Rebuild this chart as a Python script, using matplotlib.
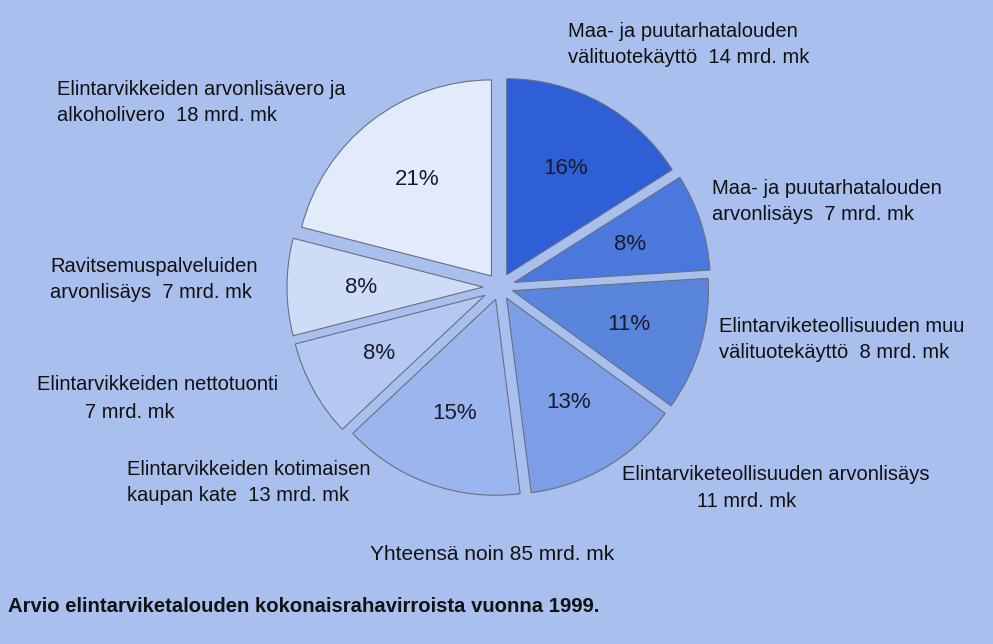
import matplotlib
matplotlib.use("Agg")
import matplotlib.pyplot as plt
from matplotlib import font_manager

# data (percent shares, clockwise from 12 o'clock)
osuudet = [16, 8, 11, 13, 15, 8, 8, 21]
varit = ['#2f5fd6', '#4a78dc', '#5a85dd', '#7b9ee6',
         '#9bb5ee', '#b4c8f2', '#cfdcf8', '#e2ebfb']
selitteet = [
    "Maa- ja puutarhatalouden\nvälituotekäyttö  14 mrd. mk",
    "Maa- ja puutarhatalouden\narvonlisäys  7 mrd. mk",
    "Elintarviketeollisuuden muu\nvälituotekäyttö  8 mrd. mk",
    "Elintarviketeollisuuden arvonlisäys",
    "Elintarvikkeiden kotimaisen\nkaupan kate  13 mrd. mk",
    "Elintarvikkeiden nettotuonti",
    "Ravitsemuspalveluiden\narvonlisäys  7 mrd. mk",
    "Elintarvikkeiden arvonlisävero ja\nalkoholivero  18 mrd. mk",
]
# label anchor (left x, top y) in image pixels
selite_xy = [(568, 22), (712, 179), (719, 317), (622, 465),
             (127, 460), (37, 375), (50, 257), (57, 80)]
yhteensa = "Yhteensä noin 85 mrd. mk"
otsikko = "Arvio elintarviketalouden kokonaisrahavirroista vuonna 1999."

W, H = 993, 644
tausta = '#a9bfee'

installed = {f.name for f in font_manager.fontManager.ttflist}
kapea = ['Liberation Sans Narrow', 'Liberation Sans', 'DejaVu Sans']
kapea = [f for f in kapea if f in installed] or ['DejaVu Sans']
plt.rcParams['font.family'] = kapea

fig = plt.figure(figsize=(W / 100, H / 100), dpi=100)
fig.patch.set_facecolor(tausta)
ax = fig.add_axes([0, 0, 1, 1])
ax.set_facecolor(tausta)

r = 196
cx, cy = 500, H - 287
# explode offset in data units (pixels); thin slices pushed a bit more
rako = [14, 15, 13, 13, 13, 17, 17, 14]

wedges, _, pct = ax.pie(
    osuudet, colors=varit, startangle=90, counterclock=False,
    radius=r, center=(cx, cy), explode=rako,
    autopct=lambda p: f"{p:.0f}%", pctdistance=0.62,
    wedgeprops=dict(edgecolor='#6a6f80', linewidth=0.8),
    textprops=dict(fontsize=16, color='#1a1a2a', family=['Liberation Sans', 'DejaVu Sans']),
)

ax.set_xlim(0, W)
ax.set_ylim(0, H)
ax.set_aspect('equal')
ax.axis('off')

for teksti, (x, y) in zip(selitteet, selite_xy):
    ax.text(x, H - y, teksti, fontsize=14.5, color='#111', ha='left', va='top',
            linespacing=1.45)

# second lines that are offset from the first
ax.text(697, H - 492, "11 mrd. mk", fontsize=14.5, color='#111', ha='left', va='top')
ax.text(85, H - 403, "7 mrd. mk", fontsize=14.5, color='#111', ha='left', va='top')

ax.text(492, H - 555, yhteensa, fontsize=15, color='#111', ha='center', va='center')
ax.text(8, H - 606, otsikko, fontsize=14.6, fontweight='bold', color='#111',
        ha='left', va='center')

fig.savefig('out.png', dpi=100, facecolor=tausta)
